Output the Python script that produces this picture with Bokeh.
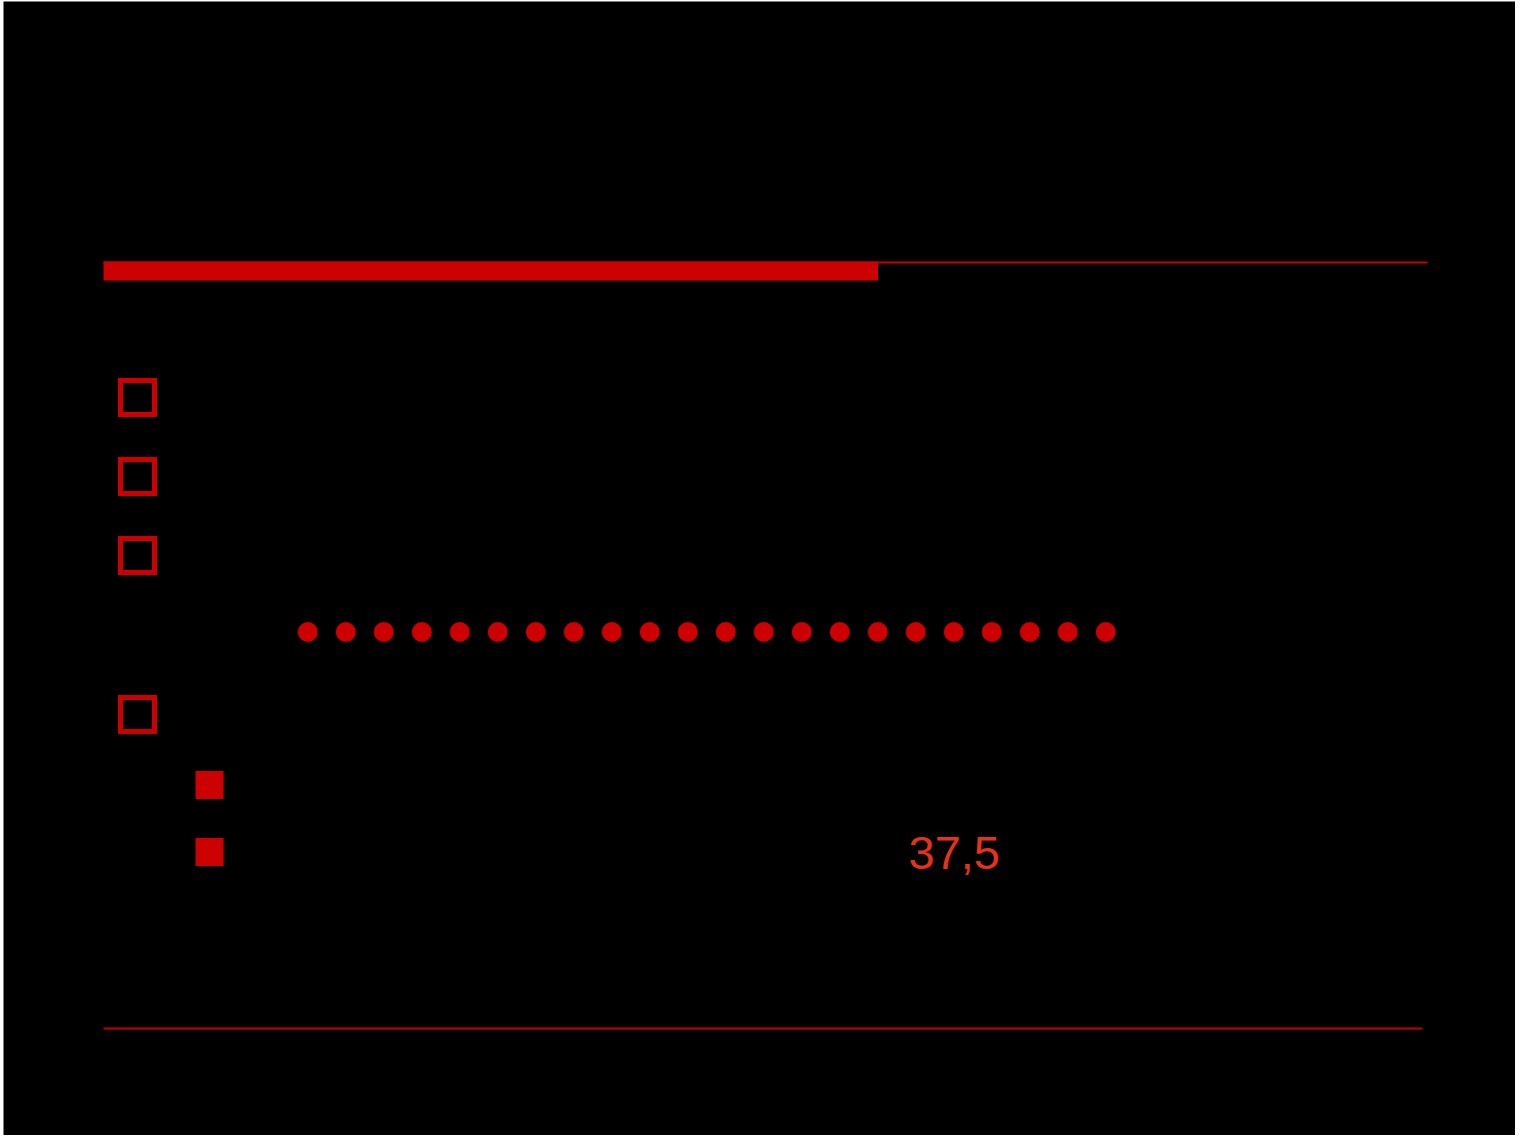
from bokeh.plotting import figure
from bokeh.models import Range1d
from bokeh.core.properties import value
from bokeh.embed import file_html
from bokeh.resources import INLINE

# ---- data ----
progress_pct = [58.5]          # filled share of the top progress track (%)
dot_count = [22]               # number of dots in the dotted row
bullet_levels = [1, 1, 1, 1, 2, 2]   # 1 = hollow square bullet, 2 = filled sub-bullet
value_labels = ["37,5"]

# ---- layout (pixels of the picture) ----
W, H = 1515, 1135
BL, BT = 3, 1                  # thin white frame left / top
RED = "#CC0000"
TXT = "#E63219"

track_left, track_right = 103, 1427
track_top, track_bottom = 261, 280
bottom_rule = (103, 1422, 1028)
bullet_rows = [397, 476, 555, 714, 784.5, 851.5]
bullet_x = {1: 137, 2: 209}
dot_row_y = 631.5
dot_x0, dot_step = 307.3, 38.0
label_pos = (908, 852)

p = figure(width=W, height=H, output_backend="svg", toolbar_location=None,
           x_range=Range1d(BL, W), y_range=Range1d(H, BT),
           x_axis_location=None, y_axis_location=None,
           min_border=0, min_border_left=BL, min_border_top=BT,
           min_border_right=0, min_border_bottom=0,
           background_fill_color="black", border_fill_color="white",
           outline_line_color=None)
p.xgrid.visible = False
p.ygrid.visible = False

# progress track: thin line + filled bar
p.segment(x0=[track_left], x1=[track_right], y0=[track_top + 1], y1=[track_top + 1],
          line_color=RED, line_width=2)
bar_right = [track_left + v / 100.0 * (track_right - track_left) for v in progress_pct]
p.quad(left=[track_left], right=bar_right, top=[track_top], bottom=[track_bottom],
       fill_color=RED, line_color=None)

# bottom rule
p.segment(x0=[bottom_rule[0]], x1=[bottom_rule[1]], y0=[bottom_rule[2]], y1=[bottom_rule[2]],
          line_color=RED, line_width=2)

# bullets
hx = [bullet_x[l] for l in bullet_levels if l == 1]
hy = [y for y, l in zip(bullet_rows, bullet_levels) if l == 1]
p.rect(x=hx, y=hy, width=34, height=34, width_units="screen", height_units="screen",
       fill_alpha=0, line_color=RED, line_width=5, line_join="miter")
fx = [bullet_x[l] for l in bullet_levels if l == 2]
fy = [y for y, l in zip(bullet_rows, bullet_levels) if l == 2]
p.rect(x=fx, y=fy, width=28, height=28, width_units="screen", height_units="screen",
       fill_color=RED, line_color=None)

# dotted row
dx = [dot_x0 + i * dot_step for i in range(dot_count[0])]
p.scatter(x=dx, y=[dot_row_y] * len(dx), size=20, marker="circle",
          fill_color=RED, line_color=None)

# value label
p.text(x=[label_pos[0]], y=[label_pos[1]], text=value_labels,
       text_font=value("Liberation Sans"), text_font_size="47px",
       text_color=TXT, text_baseline="alphabetic", text_align="left")

open("out.html", "w").write(file_html(p, INLINE))
